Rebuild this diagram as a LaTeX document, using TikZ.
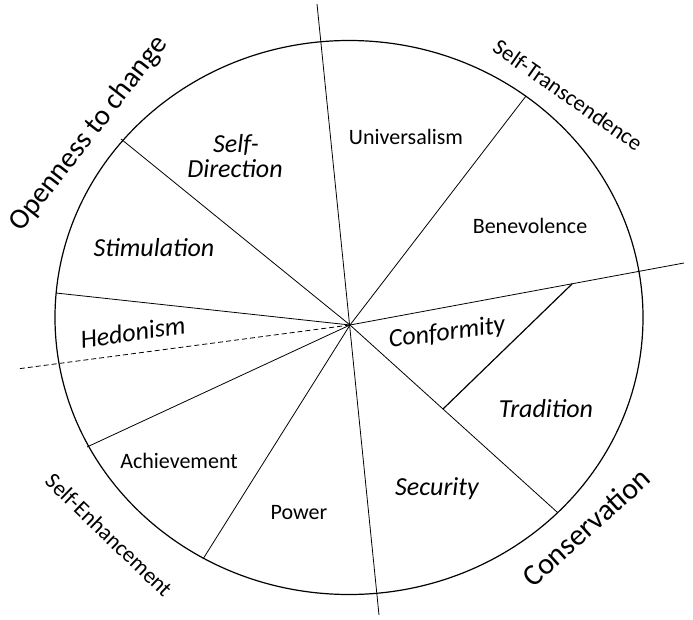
\documentclass[tikz,border=0pt]{standalone}
\usepackage{fontspec}
\setmainfont{Carlito}
\begin{document}
\begin{tikzpicture}[x=1pt,y=-1pt,
  rim/.style={line width=1.2pt},
  spoke/.style={line width=0.8pt},
  divider/.style={line width=1.2pt},
  ital/.style={font=\fontsize{26}{30}\selectfont\itshape, anchor=base, inner sep=0pt},
  reg/.style={font=\fontsize{22}{26}\selectfont, anchor=base, inner sep=0pt},
  grp/.style={inner sep=0pt, anchor=center}]
\useasboundingbox (0,0) rectangle (693,620);
\coordinate (O) at (350,325);
\draw[rim] (349,317.5) ellipse [x radius=294pt, y radius=277pt];
% spokes
\coordinate (T1) at (317,4);
\coordinate (B1) at (379,615);
\coordinate (UB) at (526,96);
\coordinate (SS) at (121,139);
\coordinate (SH) at (56,293);
\coordinate (DL) at (17,369);
\coordinate (HA) at (87,447);
\coordinate (AP) at (203,559);
\coordinate (BC) at (684,263);
\coordinate (ST) at (557,512);
\coordinate (CT1) at (443,409);
\coordinate (CT2) at (572,284);
\draw[spoke] (T1) -- (B1);
\draw[spoke] (O) -- (UB);
\draw[spoke] (O) -- (SS);
\draw[spoke] (O) -- (SH);
\draw[spoke, dash pattern=on 5pt off 3pt] (O) -- (DL);
\draw[spoke] (O) -- (HA);
\draw[spoke] (O) -- (AP);
\draw[spoke] (O) -- (BC);
\draw[spoke] (O) -- (ST);
\draw[divider] (CT1) -- (CT2);
% value labels
\node[ital] (self) at (236,153) {Self-};
\node[ital] (dir) at (235,178) {Direction};
\node[ital] (stim) at (154,257) {Stimulation};
\node[reg] (univ) at (406,145) {Universalism};
\node[reg] (bene) at (530,234) {Benevolence};
\node[ital, rotate=8] (hed) at (134,341) {Hedonism};
\node[reg] (ach) at (179,468) {Achievement};
\node[reg] (pow) at (299,519) {Power};
\node[ital, rotate=7.5] (conf) at (448,340) {Conformity};
\node[ital] (trad) at (546,417) {Tradition};
\node[ital] (sec) at (437,495) {Security};
% group labels
\node[grp, rotate=52, font=\fontsize{29}{34}\selectfont] (open) at (89,134) {Openness to change};
\node[grp, rotate=-35, font=\fontsize{22.5}{27}\selectfont] (trans) at (568,95) {Self-Transcendence};
\node[grp, rotate=-44, font=\fontsize{22.5}{27}\selectfont] (enh) at (109,535) {Self-Enhancement};
\node[grp, rotate=42, font=\fontsize{30}{35}\selectfont] (cons) at (586,527) {Conservation};
\end{tikzpicture}
\end{document}
